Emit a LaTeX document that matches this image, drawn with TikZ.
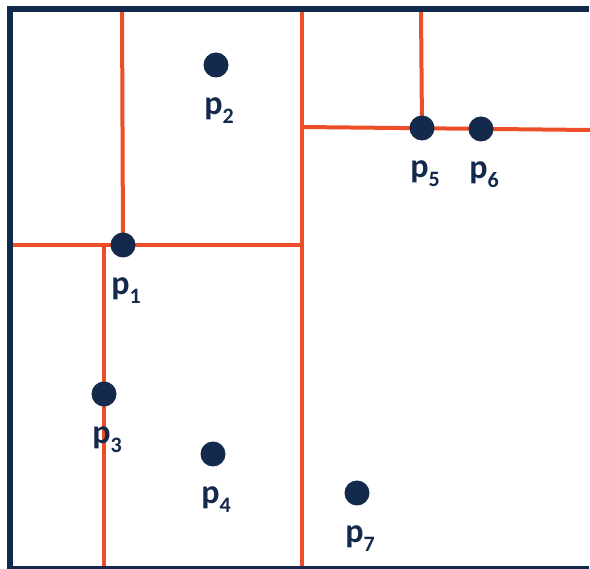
\documentclass[tikz,border=0pt]{standalone}
\usepackage{fontspec}
\setmainfont{Carlito}
\definecolor{navy}{HTML}{142A4C}
\definecolor{redorange}{HTML}{EC4F27}
\tikzset{
  frame/.style={draw=navy, line width=6pt},
  split/.style={draw=redorange, line width=4pt},
  pt/.style={circle, fill=navy, inner sep=0pt, minimum size=25pt},
  plabel/.style={text=navy, font=\fontsize{34}{34}\selectfont\bfseries, anchor=base, inner sep=0pt}
}
\newcommand{\pl}[1]{p\raisebox{-0.26em}{\fontsize{22}{22}\selectfont #1}}
\begin{document}
\begin{tikzpicture}[x=1pt,y=-1pt]
\useasboundingbox (0,0) rectangle (590,569);
\fill[white] (0,0) rectangle (590,569);
\coordinate (top1) at (122,9);
\coordinate (top2) at (302,9);
\coordinate (top5) at (421,9);
\coordinate (left1) at (9,245);
\coordinate (bot3) at (104,566);
\coordinate (bot2) at (302,566);
\coordinate (right6) at (590,130);
\coordinate (mid2) at (302,127);
\coordinate (mid1) at (302,245);
\coordinate (j3) at (104,245);
\coordinate (ftr) at (588.5,9);
\coordinate (ftl) at (9.5,9);
\coordinate (fbl) at (9.5,569.5);
\coordinate (fbr) at (588.5,569.5);
\draw[split] (top1) -- (123,245);
\draw[split] (left1) -- (mid1);
\draw[split] (j3) -- (bot3);
\draw[split] (top2) -- (bot2);
\draw[split] (mid2) -- (right6);
\draw[split] (top5) -- (422,128);
\begin{scope}
\clip (0,0) rectangle (590,569);
\draw[frame] (ftr) -- (ftl) -- (fbl) -- (fbr);
\end{scope}
\node[pt] (p1) at (123,245) {};
\node[pt] (p2) at (216,65) {};
\node[pt] (p3) at (104,394) {};
\node[pt] (p4) at (213,454) {};
\node[pt] (p5) at (422,128) {};
\node[pt] (p6) at (481,129) {};
\node[pt] (p7) at (357,493) {};
\node[plabel] (l1) at (126,295) {\pl{1}};
\node[plabel] (l2) at (219,115) {\pl{2}};
\node[plabel] (l3) at (107,444) {\pl{3}};
\node[plabel] (l4) at (216,504) {\pl{4}};
\node[plabel] (l5) at (425,178) {\pl{5}};
\node[plabel] (l6) at (484,179) {\pl{6}};
\node[plabel] (l7) at (360,543) {\pl{7}};
\end{tikzpicture}
\end{document}
